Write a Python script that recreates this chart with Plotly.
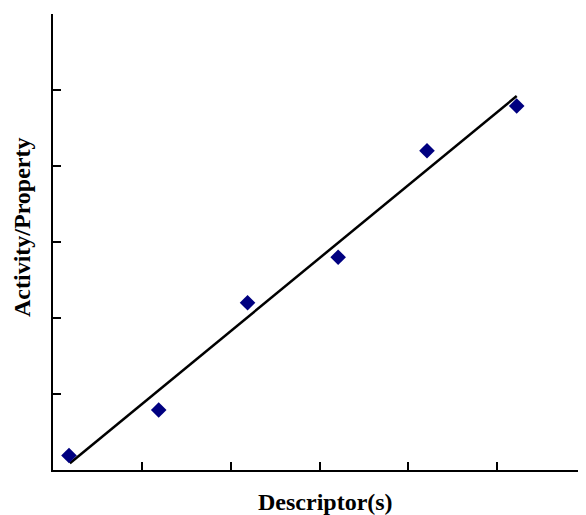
import plotly.graph_objects as go

# Observed data points
desc_x = [0.18, 1.19, 2.19, 3.21, 4.21, 5.22]
act_y = [0.19, 0.79, 2.20, 2.80, 4.20, 4.79]

# Fitted regression line endpoints
fit_x = [0.19, 5.22]
fit_y = [0.09, 4.92]

x_ticks = [0, 1, 2, 3, 4, 5, 6]
y_ticks = [0, 1, 2, 3, 4, 5, 6]

# page has an 8px body margin; compensate so the plot lands where the reference has it
OFF = 8
W, H = 586 - OFF, 515 - OFF
ml, mr, mt, mb = 53 - OFF, 0, 14 - OFF, 45
pw, ph = W - ml - mr, H - mt - mb

def px_x(p):  # page pixel -> paper x
    return (p - OFF - ml) / pw

def px_y(p):  # page pixel -> paper y
    return (H - mb - (p - OFF)) / ph

fig = go.Figure()
fig.add_trace(go.Scatter(x=fit_x, y=fit_y, mode="lines",
                         line=dict(color="black", width=2.5), showlegend=False,
                         hoverinfo="skip"))
fig.add_trace(go.Scatter(x=desc_x, y=act_y, mode="markers",
                         marker=dict(symbol="diamond", size=12, color="#000080",
                                     line=dict(width=0)),
                         showlegend=False))

axis_common = dict(showgrid=False, zeroline=False, showline=True,
                   linecolor="black", linewidth=2, ticks="inside",
                   ticklen=8, tickwidth=2, tickcolor="black",
                   showticklabels=False)

fig.update_xaxes(range=[0, 6], tickvals=x_ticks, **axis_common)
fig.update_yaxes(range=[0, 6], tickvals=y_ticks, **axis_common)

font = dict(family="Liberation Serif, Times New Roman, serif", size=24, color="black")
fig.add_annotation(text="<b>Descriptor(s)</b>", xref="paper", yref="paper",
                   x=px_x(325), y=px_y(502),
                   xanchor="center", yanchor="middle", showarrow=False, font=font)
fig.add_annotation(text="<b>Activity/Property</b>", xref="paper", yref="paper",
                   x=px_x(22), y=px_y(227), textangle=-90,
                   xanchor="center", yanchor="middle", showarrow=False, font=font)

fig.update_layout(width=W, height=H, margin=dict(l=ml, r=mr, t=mt, b=mb),
                  plot_bgcolor="white", paper_bgcolor="white")

fig.write_html("out.html")
